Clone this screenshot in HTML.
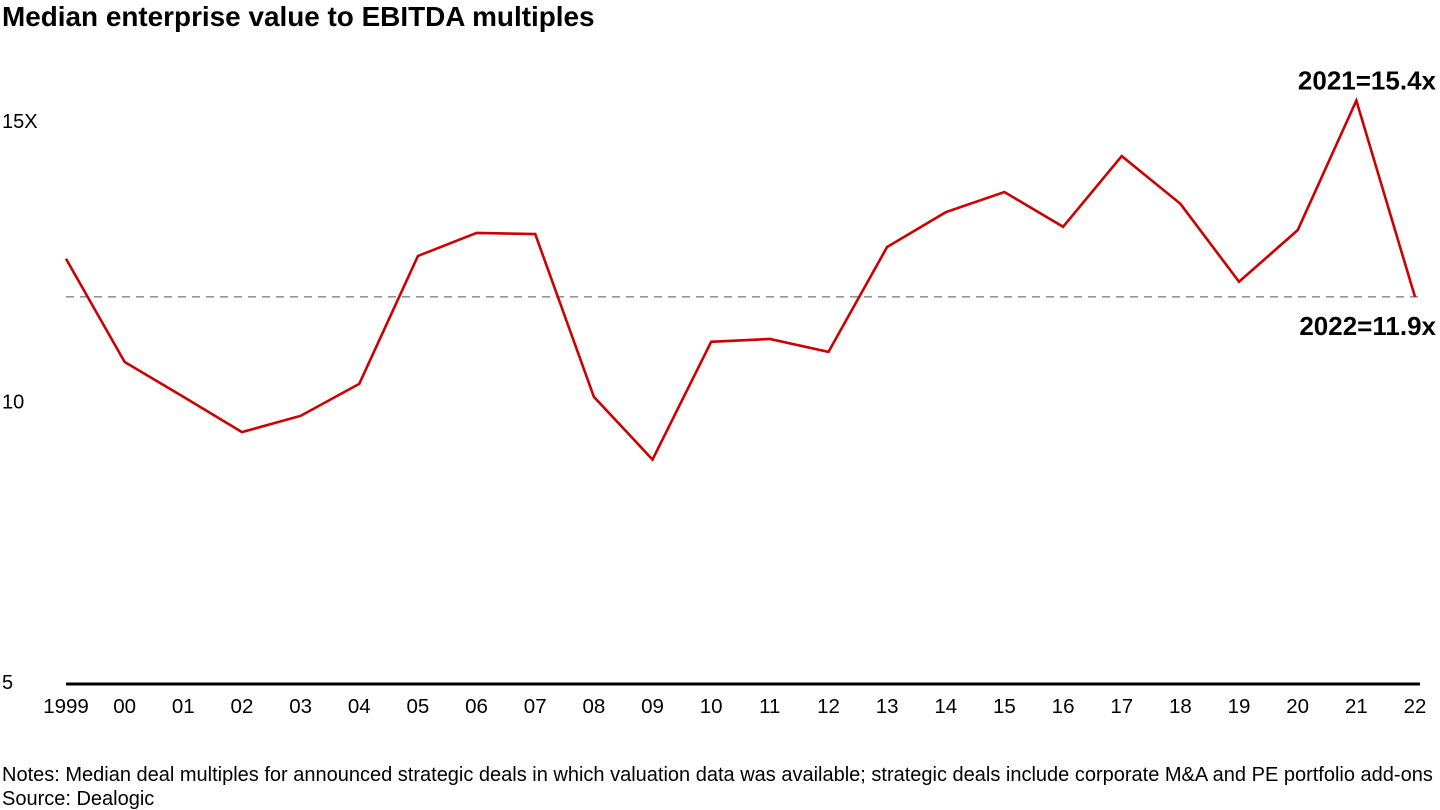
<!DOCTYPE html>
<html><head><meta charset="utf-8"><style>
body{margin:0;background:#fff;font-family:"Liberation Sans",Arial,sans-serif;}
svg{display:block}
</style></head><body>
<svg id="chart" width="1440" height="810" xmlns="http://www.w3.org/2000/svg">
<text x="2" y="26" font-size="27.9" font-weight="bold" fill="#000">Median enterprise value to EBITDA multiples</text>
<g id="yticks"></g><g id="xticks"></g>
<line x1="66" y1="684" x2="1420" y2="684" stroke="#000" stroke-width="3"/>
<line id="ref" x1="66" x2="1420" stroke="#555" stroke-width="1" stroke-dasharray="8,6"/>
<path id="line" fill="none" stroke="#cc0000" stroke-width="2.6" stroke-linejoin="miter"/>
<text id="lab21" font-size="26" font-weight="bold" text-anchor="end" x="1436">2021=15.4x</text>
<text id="lab22" font-size="26" font-weight="bold" text-anchor="end" x="1436">2022=11.9x</text>
<text x="2" y="781" font-size="20">Notes: Median deal multiples for announced strategic deals in which valuation data was available; strategic deals include corporate M&amp;A and PE portfolio add-ons</text>
<text x="2" y="805" font-size="20">Source: Dealogic</text>
</svg>
<script>
const categories=["1999","00","01","02","03","04","05","06","07","08","09","10","11","12","13","14","15","16","17","18","19","20","21","22"];
const values=[12.58,10.74,10.12,9.49,9.78,10.35,12.63,13.04,13.02,10.12,9.0,11.10,11.15,10.92,12.79,13.41,13.77,13.15,14.41,13.56,12.17,13.09,15.4,11.9];
const yTicks=[5,10,15];
const yTickLabels=["5","10","15X"];
const refValue=11.9;
const x=i=>66+i*(1415-66)/(categories.length-1);
const y=v=>684-(v-5)*56.1;
const ns="http://www.w3.org/2000/svg";
const yg=document.getElementById('yticks'),xg=document.getElementById('xticks');
yTicks.forEach((t,i)=>{const e=document.createElementNS(ns,'text');


e.setAttribute('x',2);e.setAttribute('y',y(t)+5);e.setAttribute('font-size','20');e.textContent=yTickLabels[i];yg.appendChild(e);});
categories.forEach((c,i)=>{const e=document.createElementNS(ns,'text');


e.setAttribute('x',x(i));e.setAttribute('y',713);e.setAttribute('font-size','20.5');e.setAttribute('text-anchor','middle');e.textContent=c;xg.appendChild(e);});
document.getElementById('line').setAttribute('d',values.map((v,i)=>(i?'L':'M')+x(i)+','+y(v)).join(''));
const r=document.getElementById('ref');r.setAttribute('y1',y(refValue));r.setAttribute('y2',y(refValue));
document.getElementById('lab21').setAttribute('y',y(values[22])-11);
document.getElementById('lab22').setAttribute('y',y(values[23])+38);
</script>
</body></html>
